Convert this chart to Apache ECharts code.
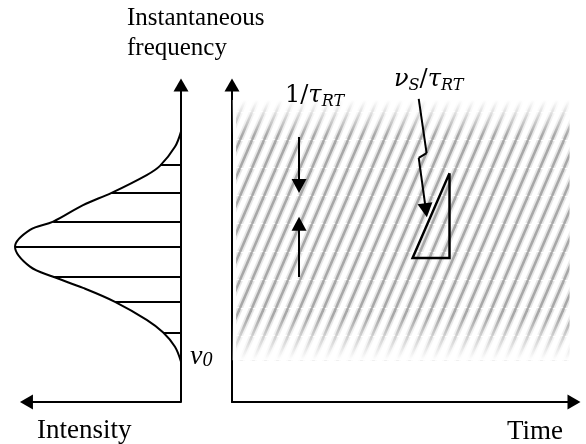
<!DOCTYPE html>
<html>
<head>
<meta charset="utf-8">
<script src="https://cdn.jsdelivr.net/npm/echarts@6/dist/echarts.min.js"></script>
<style>
  html, body { margin: 0; padding: 0; background: #fff; }
  #chart { width: 586px; height: 444px; }
</style>
</head>
<body>
<div id="chart"></div>
<script>
// spectral envelope on the left panel: intensity (to the left) vs frequency
const envIntensity = [0, 3.9, 13.6, 22.2, 44.9, 63.4, 82.7, 97.7, 107.4, 97.7, 82.7, 63.4, 42.7, 22.2, 11.5, 3.9, 0];
const envFrequency = [85.3, 80.5, 74.5, 71.6, 66.0, 62.1, 56.9, 54.3, 49.0, 42.7, 39.5, 36.0, 31.6, 25.9, 21.9, 17.4, 12.7];

// comb lines under the envelope
const combFrequency = [74.7, 66.0, 56.9, 49.0, 39.5, 31.6, 21.9];
const combIntensity = [13.6, 44.9, 82.7, 107.4, 82.7, 42.7, 11.5];

// intensity axis (drawn from 0 to its arrow end)
const intensityAxis = [0, 100];

// right panel (time vs frequency): hatched band and its faded edges
const bandTime = [1.2, 98.7];
const bandFreq = [13.2, 95.3];
const fadeTop = [84.0, 95.3];
const fadeBottom = [13.2, 27.0];

// 1/tau_RT arrows: [time, from, to]
const spacingArrowDown = [19.6, 83.6, 68.1];
const spacingArrowUp = [19.6, 39.4, 56.2];

// nu_S/tau_RT pointer (zig-zag) and slope triangle
const pointerTime = [54.6, 56.9, 54.6, 56.7];
const pointerFreq = [95.6, 78.5, 77.0, 60.5];
const triTime = [63.6, 52.8, 63.6, 63.6];
const triFreq = [72.2, 45.4, 45.4, 72.2];

// stripe tile for the hatching
function makeStripes() {
  const w = 12, h = 28;
  const c = document.createElement('canvas');
  c.width = w; c.height = h;
  const ctx = c.getContext('2d');
  for (let k = -1; k <= 1; k++) {
    ctx.beginPath();
    ctx.moveTo(k * w, h);
    ctx.lineTo(k * w + w, 0);
    ctx.strokeStyle = 'rgba(175,175,175,0.3)';
    ctx.lineWidth = 6;
    ctx.stroke();
    ctx.strokeStyle = 'rgba(125,125,125,0.6)';
    ctx.lineWidth = 2.5;
    ctx.stroke();
  }
  return c;
}

const chart = echarts.init(document.getElementById('chart'));

const axisLine = {
  show: true,
  onZero: false,
  lineStyle: { color: '#000', width: 2 },
  symbol: ['none', 'triangle'],
  symbolSize: [15, 13]
};
const plain = {
  type: 'value', min: 0, max: 100,
  axisTick: { show: false }, axisLabel: { show: false }, splitLine: { show: false },
  axisLine: axisLine
};

const serif = '"Liberation Serif", "Times New Roman", serif';
const mathSerif = '"DejaVu Serif", serif';
const mathRich = {
  n: { font: '24px ' + mathSerif, fill: '#000', lineHeight: 28 },
  i: { font: 'italic 24px ' + mathSerif, fill: '#000', lineHeight: 28 },
  s: { font: 'italic 16px ' + mathSerif, fill: '#000', verticalAlign: 'bottom', lineHeight: 20 }
};

const option = {
  animation: false,
  backgroundColor: '#fff',
  grid: [
    { left: 11, right: 405, top: 85, bottom: 42 },
    { left: 232, right: 12, top: 85, bottom: 42 }
  ],
  xAxis: [
    Object.assign({}, plain, { gridIndex: 0, max: 110, inverse: true, position: 'bottom', axisLine: { show: false } }),
    Object.assign({}, plain, { gridIndex: 1, position: 'bottom' })
  ],
  yAxis: [
    Object.assign({}, plain, { gridIndex: 0, position: 'right' }),
    Object.assign({}, plain, { gridIndex: 1, position: 'left' })
  ],
  series: [
    {
      name: 'envelope',
      type: 'line',
      xAxisIndex: 0, yAxisIndex: 0,
      data: envIntensity.map((v, i) => [v, envFrequency[i]]),
      smooth: 0.35,
      symbol: 'none',
      clip: false,
      lineStyle: { color: '#000', width: 2 },
      markLine: {
        silent: true,
        symbol: 'none',
        symbolSize: [15, 13],
        label: { show: false },
        lineStyle: { color: '#000', width: 2, type: 'solid' },
        data: combFrequency.map((f, i) => [{ coord: [combIntensity[i], f] }, { coord: [0, f] }]).concat([
          [{ coord: [intensityAxis[0], 0], symbol: 'none' }, { coord: [intensityAxis[1], 0], symbol: 'triangle' }]
        ])
      }
    },
    {
      name: 'hatch',
      type: 'line',
      xAxisIndex: 1, yAxisIndex: 1,
      data: [],
      z: 1,
      markArea: {
        silent: true,
        itemStyle: { color: { image: makeStripes(), repeat: 'repeat' } },
        data: [[{ coord: [bandTime[0], bandFreq[1]] }, { coord: [bandTime[1], bandFreq[0]] }]]
      }
    },
    {
      name: 'fade',
      type: 'line',
      xAxisIndex: 1, yAxisIndex: 1,
      data: [],
      z: 2,
      markArea: {
        silent: true,
        data: [
          [{ coord: [bandTime[0] - 1, fadeTop[1]], itemStyle: { color: new echarts.graphic.LinearGradient(0, 0, 0, 1, [
            { offset: 0, color: 'rgba(255,255,255,1)' }, { offset: 1, color: 'rgba(255,255,255,0)' }]) } },
           { coord: [bandTime[1] + 1, fadeTop[0]] }],
          [{ coord: [bandTime[0] - 1, fadeBottom[1]], itemStyle: { color: new echarts.graphic.LinearGradient(0, 0, 0, 1, [
            { offset: 0, color: 'rgba(255,255,255,0)' }, { offset: 1, color: 'rgba(255,255,255,1)' }]) } },
           { coord: [bandTime[1] + 1, fadeBottom[0]] }]
        ]
      }
    },
    {
      name: 'pointer',
      type: 'line',
      xAxisIndex: 1, yAxisIndex: 1,
      data: [],
      z: 5,
      markLine: {
        silent: true,
        label: { show: false },
        symbolSize: [15, 14],
        lineStyle: { color: '#000', width: 2, type: 'solid' },
        data: [
          [{ coord: [spacingArrowDown[0], spacingArrowDown[1]], symbol: 'none' },
           { coord: [spacingArrowDown[0], spacingArrowDown[2]], symbol: 'triangle' }],
          [{ coord: [spacingArrowUp[0], spacingArrowUp[1]], symbol: 'none' },
           { coord: [spacingArrowUp[0], spacingArrowUp[2]], symbol: 'triangle' }],
          [{ coord: [pointerTime[0], pointerFreq[0]], symbol: 'none' },
           { coord: [pointerTime[1], pointerFreq[1]], symbol: 'none' }],
          [{ coord: [pointerTime[1], pointerFreq[1]], symbol: 'none' },
           { coord: [pointerTime[2], pointerFreq[2]], symbol: 'none' }],
          [{ coord: [pointerTime[2], pointerFreq[2]], symbol: 'none' },
           { coord: [pointerTime[3], pointerFreq[3]], symbol: 'triangle' }]
        ]
      }
    },
    {
      name: 'slope',
      type: 'line',
      xAxisIndex: 1, yAxisIndex: 1,
      data: triTime.map((t, i) => [t, triFreq[i]]),
      symbol: 'none',
      z: 5,
      lineStyle: { color: '#000', width: 2.5, join: 'miter' }
    }
  ],
  graphic: [
    { type: 'text', z: 100, left: 127, top: 6, style: { text: 'Instantaneous', font: '25px ' + serif, fill: '#000' } },
    { type: 'text', z: 100, left: 127, top: 36, style: { text: 'frequency', font: '25px ' + serif, fill: '#000' } },
    { type: 'text', z: 100, left: 37, top: 417, style: { text: 'Intensity', font: '27px ' + serif, fill: '#000' } },
    { type: 'text', z: 100, left: 507, top: 418, style: { text: 'Time', font: '27px ' + serif, fill: '#000' } },
    {
      type: 'text', z: 100, left: 190, top: 343,
      style: {
        text: '{i|ν}{s|0}',
        rich: {
          i: { font: 'italic 28px ' + serif, fill: '#000', lineHeight: 28 },
          s: { font: 'italic 20px ' + serif, fill: '#000', verticalAlign: 'bottom', lineHeight: 22 }
        }
      }
    },
    { type: 'text', z: 100, left: 285, top: 84, style: { text: '{n|1/}{i|τ}{s|RT}', rich: mathRich } },
    { type: 'text', z: 100, left: 394, top: 68, style: { text: '{i|ν}{s|S}{n|/}{i|τ}{s|RT}', rich: mathRich } }
  ]
};

chart.setOption(option);
</script>
</body>
</html>
